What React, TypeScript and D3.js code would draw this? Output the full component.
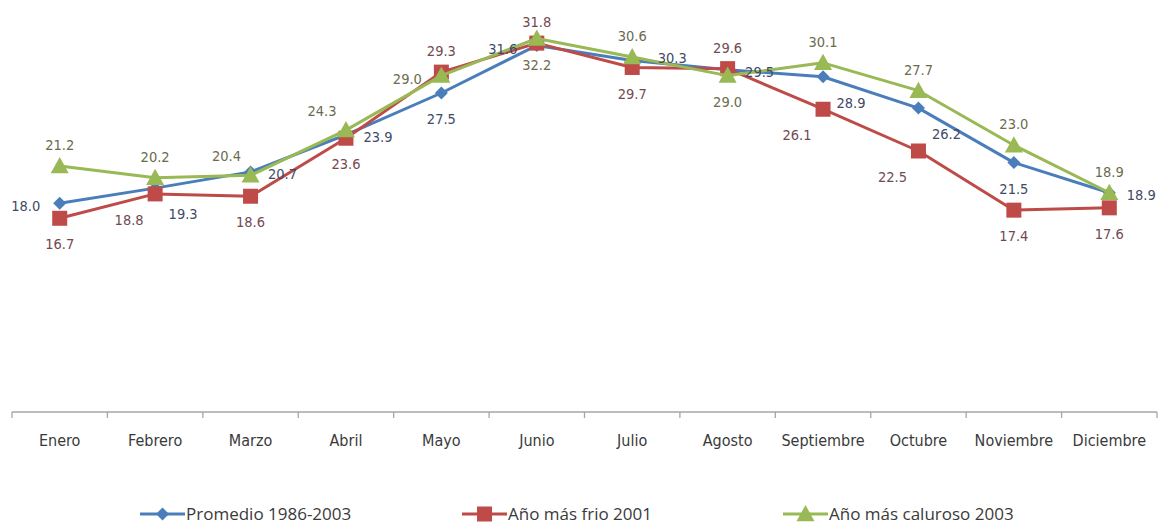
import React from "react";
import * as d3 from "d3";

const months = ["Enero","Febrero","Marzo","Abril","Mayo","Junio","Julio","Agosto","Septiembre","Octubre","Noviembre","Diciembre"];
const promedio = [18.0,19.3,20.7,23.9,27.5,31.6,30.3,29.5,28.9,26.2,21.5,18.9];
const frio = [16.7,18.8,18.6,23.6,29.3,31.8,29.7,29.6,26.1,22.5,17.4,17.6];
const caluroso = [21.2,20.2,20.4,24.3,29.0,32.2,30.6,29.0,30.1,27.7,23.0,18.9];
const seriesNames = ["Promedio 1986-2003","Año más frio 2001","Año más caluroso 2003"];

// label placement codes per point
const posPromedio = ["l","br","r","r","b","l","ar","r","br","br","b","r"];
const posFrio = ["b","bl","b","b","a","a","b","a","bl","bl","b","b"];
const posCaluroso = ["a","a","al","al","l","b","a","b","a","a","a","a"];

const W = 1159, H = 529;
const FONT = "'DejaVu Sans Condensed', 'DejaVu Sans', sans-serif";

const offsets: Record<string, [number, number]> = {
  a: [0, -21], b: [0, 26], l: [-34, 3], r: [32, 2], ar: [40, -3],
  al: [-24, -19], bl: [-26, 26], br: [28, 26],
};

function Marker({ kind, x, y, color }: { kind: string; x: number; y: number; color: string }) {
  if (kind === "diamond") {
    const s = 6.5;
    return <path d={`M${x},${y - s}L${x + s},${y}L${x},${y + s}L${x - s},${y}Z`} fill={color} />;
  }
  if (kind === "square") {
    const s = 7.5;
    return <rect x={x - s} y={y - s} width={2 * s} height={2 * s} fill={color} />;
  }
  const s = 9;
  return <path d={`M${x},${y - s}L${x + s},${y + s * 0.8}L${x - s},${y + s * 0.8}Z`} fill={color} />;
}

export default function App() {
  const x = d3.scaleBand<string>().domain(months).range([12, 1157]);
  const y = d3.scaleLinear().domain([0, 35]).range([412, 6]);
  const cx = (m: string) => (x(m) as number) + x.bandwidth() / 2;

  const series = [
    { name: seriesNames[0], data: promedio, pos: posPromedio, color: "#4a7ebb", labelColor: "#3e4a68", marker: "diamond" },
    { name: seriesNames[1], data: frio, pos: posFrio, color: "#be4b48", labelColor: "#714a50", marker: "square" },
    { name: seriesNames[2], data: caluroso, pos: posCaluroso, color: "#98b954", labelColor: "#6b6b4e", marker: "triangle" },
  ];

  const line = d3.line<number>().x((_, i) => cx(months[i])).y((d) => y(d));
  const legendX = [140, 462, 783];

  return (
    <svg width={W} height={H} style={{ position: "absolute", left: 0, top: 0, background: "#fff" }}>
      {/* axis */}
      <line x1={12} x2={1157} y1={412} y2={412} stroke="#a6a6a6" strokeWidth={1.3} />
      {d3.range(months.length + 1).map((i) => {
        const xx = i < months.length ? (x(months[i]) as number) : 1157;
        return <line key={i} x1={xx} x2={xx} y1={412} y2={418} stroke="#a6a6a6" strokeWidth={1.3} />;
      })}
      {months.map((m) => (
        <text key={m} x={cx(m)} y={446} textAnchor="middle" fontFamily={FONT} fontSize={16} fill="#3a3a3a">
          {m}
        </text>
      ))}
      {series.map((s) => (
        <g key={s.name}>
          <path d={line(s.data) as string} fill="none" stroke={s.color} strokeWidth={3} strokeLinejoin="round" />
          {s.data.map((v, i) => (
            <Marker key={i} kind={s.marker} x={cx(months[i])} y={y(v)} color={s.color} />
          ))}
        </g>
      ))}
      {series.map((s) => (
        <g key={s.name + "l"}>
          {s.data.map((v, i) => {
            const [dx, dy] = offsets[s.pos[i]];
            return (
              <text key={i} x={cx(months[i]) + dx} y={y(v) + dy} dy="0.35em" textAnchor="middle"
                fontFamily={FONT} fontSize={14.5} fill={s.labelColor}>
                {v.toFixed(1)}
              </text>
            );
          })}
        </g>
      ))}
      {/* legend */}
      {series.map((s, i) => (
        <g key={s.name + "leg"}>
          <line x1={legendX[i]} x2={legendX[i] + 45} y1={514} y2={514} stroke={s.color} strokeWidth={3} />
          <Marker kind={s.marker} x={legendX[i] + 22.5} y={514} color={s.color} />
          <text x={legendX[i] + 46} y={514} dy="0.35em" fontFamily="'Open Sans', 'DejaVu Sans', sans-serif" fontSize={17} fill="#3a3a3a">
            {s.name}
          </text>
        </g>
      ))}
    </svg>
  );
}
